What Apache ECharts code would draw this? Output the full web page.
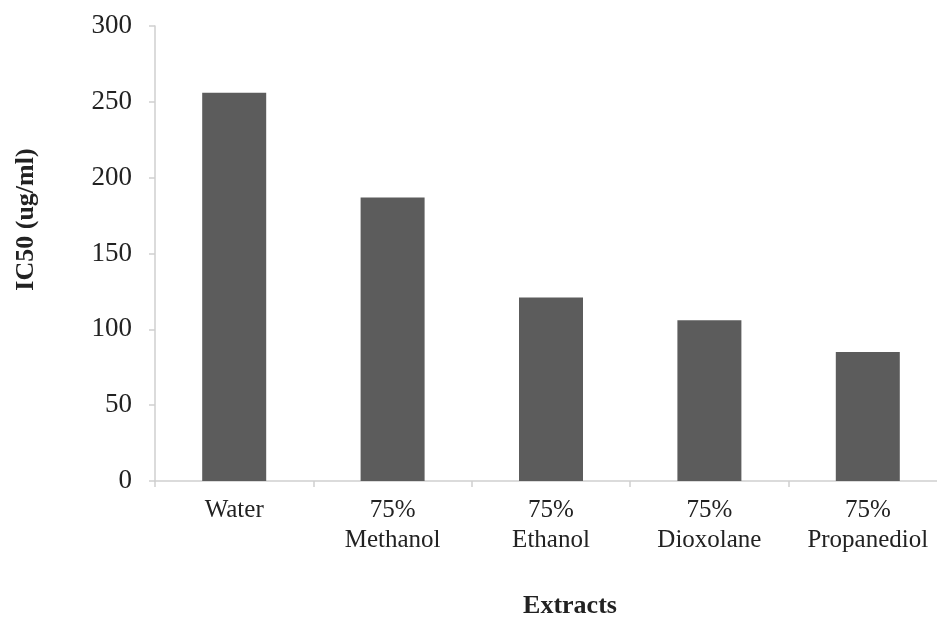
<!DOCTYPE html>
<html><head><meta charset="utf-8">
<script src="https://cdn.jsdelivr.net/npm/echarts@6/dist/echarts.min.js"></script>
<style>html,body{margin:0;padding:0;background:#fff}#c{width:937px;height:619px}</style>
</head><body><div id="c"></div>
<script>
var categories = ['Water', '75%\nMethanol', '75%\nEthanol', '75%\nDioxolane', '75%\nPropanediol'];
var values = [256, 187, 121, 106, 85];
var yTicks = [0, 50, 100, 150, 200, 250, 300];

var chart = echarts.init(document.getElementById('c'));
var font = '"Liberation Serif", "Times New Roman", serif';
chart.setOption({
  animation: false,
  grid: { left: 155, right: -10, top: 26, bottom: 138, containLabel: false, outerBoundsMode: 'none' },
  xAxis: {
    type: 'category',
    data: categories,
    name: 'Extracts',
    nameLocation: 'middle',
    nameGap: 112,
    nameTextStyle: { fontFamily: font, fontSize: 26, fontWeight: 'bold', color: '#222', padding: [0, 0, 0, 38] },
    axisLine: { lineStyle: { color: '#cfcfcf', width: 1.5 } },
    axisTick: { show: true, length: 6, lineStyle: { color: '#cfcfcf', width: 1.5 } },
    axisLabel: { fontFamily: font, fontSize: 25, color: '#222', margin: 14, lineHeight: 30, interval: 0 }
  },
  yAxis: {
    type: 'value',
    min: yTicks[0],
    max: yTicks[yTicks.length - 1],
    interval: 50,
    name: 'IC50 (ug/ml)',
    nameLocation: 'middle',
    nameGap: 116,
    nameTextStyle: { fontFamily: font, fontSize: 26, fontWeight: 'bold', color: '#222', padding: [0, 0, 0, 68] },
    axisLine: { show: true, lineStyle: { color: '#cfcfcf', width: 1.5 } },
    axisTick: { show: true, length: 6, lineStyle: { color: '#cfcfcf', width: 1.5 } },
    splitLine: { show: false },
    axisLabel: { fontFamily: font, fontSize: 27, color: '#222', margin: 23 }
  },
  series: [{
    type: 'bar',
    data: values,
    barWidth: 64,
    itemStyle: { color: '#5c5c5c' }
  }]
});
</script></body></html>
